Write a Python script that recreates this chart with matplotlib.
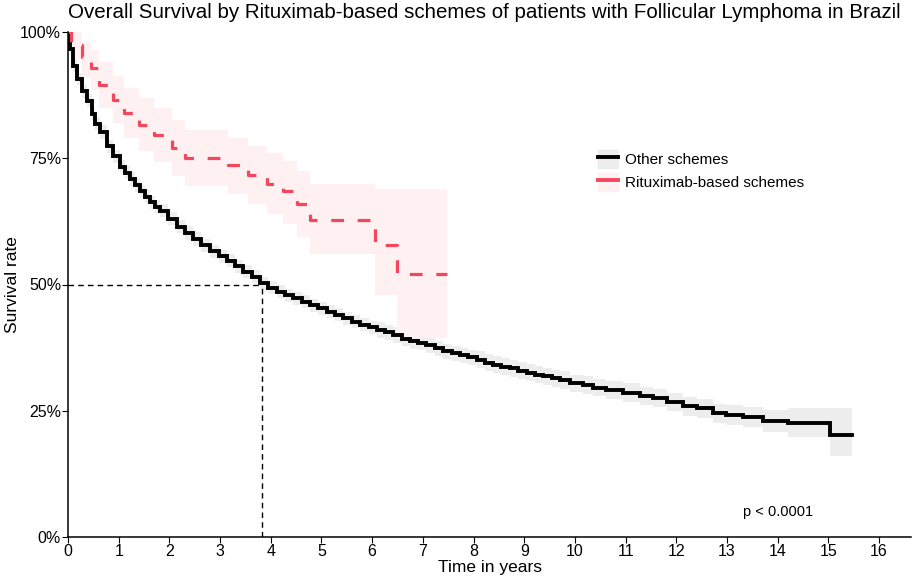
import numpy as np
import matplotlib.pyplot as plt
from matplotlib.lines import Line2D
from matplotlib.patches import Patch

# Kaplan-Meier values (time in years, survival fraction)
black_time = [0, 0.04, 0.10, 0.18, 0.28, 0.37, 0.47, 0.53, 0.63, 0.77, 0.89, 1.03, 1.12, 1.22,
              1.32, 1.42, 1.52, 1.62, 1.72, 1.81, 1.98, 2.15, 2.31, 2.47, 2.63, 2.80, 2.97,
              3.14, 3.30, 3.45, 3.62,
              3.79, 3.95, 4.12, 4.28, 4.44, 4.61, 4.77, 4.94, 5.10, 5.27, 5.43, 5.60, 5.76,
              5.93, 6.09, 6.25, 6.42, 6.58, 6.75, 6.91, 7.07, 7.24, 7.40, 7.57, 7.73, 7.90,
              8.06, 8.23, 8.39, 8.55, 8.72, 8.88, 9.05, 9.21, 9.37, 9.54, 9.70,
              9.90, 10.16, 10.36, 10.62, 10.95, 11.28, 11.54, 11.81, 12.13, 12.40, 12.72,
              12.99, 13.31, 13.71, 14.20, 15.03, 15.46]
black_surv = [1.00, 0.966, 0.933, 0.907, 0.883, 0.864, 0.838, 0.818, 0.802, 0.774, 0.754,
              0.733, 0.721, 0.709, 0.697, 0.685, 0.674, 0.663, 0.654, 0.646, 0.630, 0.614,
              0.602, 0.590, 0.578, 0.566, 0.556, 0.547, 0.536, 0.525, 0.515,
              0.502, 0.494, 0.486, 0.479, 0.473, 0.466, 0.459, 0.453, 0.446, 0.440, 0.433,
              0.426, 0.420, 0.415, 0.410, 0.405, 0.400, 0.393, 0.388, 0.385, 0.380, 0.374,
              0.368, 0.364, 0.360, 0.356, 0.351, 0.345, 0.341, 0.337, 0.334, 0.329, 0.325,
              0.321, 0.318, 0.314, 0.311,
              0.304, 0.301, 0.296, 0.291, 0.286, 0.280, 0.275, 0.268, 0.259, 0.255, 0.245,
              0.242, 0.237, 0.230, 0.225, 0.202, 0.202]
black_lo = [1.00, 0.955, 0.921, 0.895, 0.870, 0.851, 0.825, 0.805, 0.789, 0.761, 0.741,
            0.720, 0.708, 0.696, 0.684, 0.672, 0.661, 0.650, 0.641, 0.633, 0.617, 0.601,
            0.589, 0.577, 0.565, 0.553, 0.543, 0.534, 0.523, 0.512, 0.502,
            0.489, 0.481, 0.473, 0.466, 0.460, 0.453, 0.446, 0.440, 0.433, 0.427, 0.420,
            0.413, 0.407, 0.402, 0.395, 0.390, 0.385, 0.378, 0.373, 0.370, 0.365, 0.359,
            0.353, 0.349, 0.345, 0.341, 0.334, 0.328, 0.324, 0.320, 0.317, 0.312, 0.308,
            0.304, 0.301, 0.297, 0.294,
            0.287, 0.284, 0.279, 0.274, 0.268, 0.262, 0.257, 0.250, 0.240, 0.236, 0.226,
            0.222, 0.217, 0.208, 0.198, 0.160, 0.160]
black_hi = [1.00, 0.977, 0.945, 0.919, 0.896, 0.877, 0.851, 0.831, 0.815, 0.787, 0.767,
            0.746, 0.734, 0.722, 0.710, 0.698, 0.687, 0.676, 0.667, 0.659, 0.643, 0.627,
            0.615, 0.603, 0.591, 0.579, 0.569, 0.560, 0.549, 0.538, 0.528,
            0.515, 0.507, 0.499, 0.492, 0.486, 0.479, 0.472, 0.466, 0.459, 0.453, 0.446,
            0.439, 0.433, 0.428, 0.425, 0.420, 0.415, 0.408, 0.403, 0.400, 0.395, 0.389,
            0.383, 0.379, 0.375, 0.371, 0.368, 0.362, 0.358, 0.354, 0.351, 0.346, 0.342,
            0.338, 0.335, 0.331, 0.328,
            0.321, 0.318, 0.313, 0.308, 0.304, 0.298, 0.293, 0.286, 0.278, 0.274, 0.264,
            0.262, 0.257, 0.252, 0.255, 0.255, 0.255]

red_time = [0, 0.05, 0.27, 0.45, 0.62, 0.88, 1.10, 1.40, 1.70, 2.05, 2.30, 3.15, 3.55,
            3.93, 4.24, 4.52, 4.77, 6.05, 6.49, 7.47]
red_surv = [1.00, 0.975, 0.95, 0.928, 0.895, 0.865, 0.84, 0.816, 0.796, 0.77, 0.75, 0.737,
            0.717, 0.70, 0.685, 0.66, 0.627, 0.578, 0.521, 0.521]
red_lo = [1.00, 0.945, 0.91, 0.885, 0.85, 0.82, 0.79, 0.765, 0.742, 0.715, 0.695, 0.68,
          0.66, 0.64, 0.62, 0.595, 0.56, 0.48, 0.395, 0.395]
red_hi = [1.00, 1.00, 0.98, 0.965, 0.94, 0.912, 0.89, 0.87, 0.85, 0.825, 0.805, 0.79,
          0.775, 0.76, 0.745, 0.725, 0.70, 0.69, 0.69, 0.69]

median_time = 3.83
group_names = ["Other schemes", "Rituximab-based schemes"]
x_ticks = list(range(0, 17))
y_ticks = [0, 0.25, 0.5, 0.75, 1.0]
y_labels = ["0%", "25%", "50%", "75%", "100%"]

black = "#000000"
red = "#F4475F"
grey_band = "#EDEDED"
pink_band = "#FFF1F1"

plt.rcParams['font.family'] = ['Liberation Sans', 'DejaVu Sans']

fig = plt.figure(figsize=(9.13, 5.8), dpi=100)
ax = fig.add_axes([68 / 913, 43 / 580, 843 / 913, 505 / 580])

ax.fill_between(black_time, black_lo, black_hi, step='post', color=grey_band, lw=0)
ax.fill_between(red_time, red_lo, red_hi, step='post', color=pink_band, lw=0)

ax.step(black_time, black_surv, where='post', color=black, lw=2.8, solid_joinstyle='miter')
ax.step(red_time, red_surv, where='post', color=red, lw=2.3, dashes=(4.0, 4.3))

# median lines
ax.plot([0, median_time], [0.5, 0.5], color=black, lw=1.0, ls=(0, (4, 3)))
ax.plot([median_time, median_time], [0, 0.5], color=black, lw=1.0, ls=(0, (4, 3)))

ax.text(14.0, 0.05, "p < 0.0001", fontsize=10.5, ha='center', va='center')

ax.set_xlim(0, 16.63)
ax.set_ylim(0, 1)
ax.set_xticks(x_ticks)
ax.set_xticklabels([str(t) for t in x_ticks], fontsize=11.5)
ax.set_yticks(y_ticks)
ax.set_yticklabels(y_labels, fontsize=11.5)
ax.tick_params(length=4, width=0.8, pad=1, colors='black')
for side in ['top', 'right']:
    ax.spines[side].set_visible(False)
for side in ['left', 'bottom']:
    ax.spines[side].set_linewidth(1.1)

ax.set_xlabel("Time in years", fontsize=12.5, labelpad=1)
ax.set_ylabel("Survival rate", fontsize=12.5, labelpad=0)

fig.text(68 / 913, 1 - 12 / 580, "Overall Survival by Rituximab-based schemes of patients with "
         "Follicular Lymphoma in Brazil", fontsize=14.8, ha='left', va='center')

handles = [(Patch(color=grey_band), Line2D([], [], color=black, lw=2.8)),
           (Patch(color=pink_band), Line2D([], [], color=red, lw=2.8))]
ax.legend(handles, group_names, loc='upper left', bbox_to_anchor=(590 / 913, 1 - 142 / 580),
          bbox_transform=fig.transFigure, frameon=False, fontsize=11, handlelength=1.3,
          handleheight=1.5, handletextpad=0.5, labelspacing=0.3, borderpad=0)

fig.savefig("out.png", dpi=100)
